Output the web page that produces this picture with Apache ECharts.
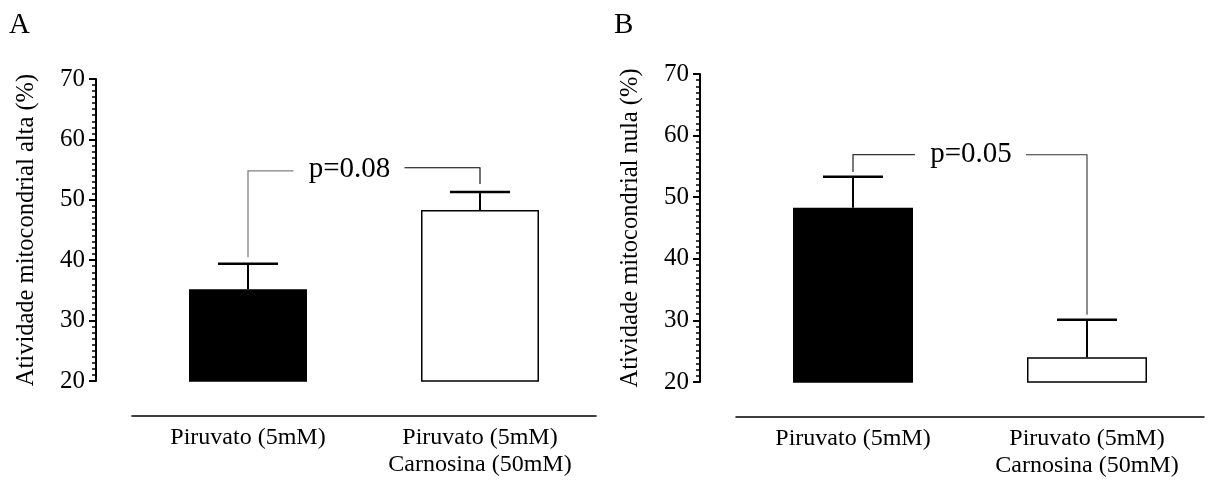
<!DOCTYPE html>
<html lang="pt">
<head>
<meta charset="utf-8">
<title>Atividade mitocondrial</title>
<script src="https://cdn.jsdelivr.net/npm/echarts@6/dist/echarts.min.js"></script>
<style>
  html, body { margin: 0; padding: 0; background: #fff; }
  #chart { width: 1208px; height: 488px; }
</style>
</head>
<body>
<div id="chart"></div>
<script>
// valores
var categories = ['Piruvato (5mM)', 'Piruvato (5mM)\nCarnosina (50mM)'];
var altaMean = [35.2, 48.3];
var altaTop = [39.4, 51.3];
var nulaMean = [48.3, 24.0];
var nulaTop = [53.3, 30.1];
// colchete: topo esq., topo dir., base esq., base dir.
var altaBracket = [54.8, 55.3, 40.5, 52.6];
var nulaBracket = [56.9, 56.9, 54.1, 30.9];
var pLabels = ['p=0.08', 'p=0.05'];
var yTitles = ['Atividade mitocondrial alta (%)', 'Atividade mitocondrial nula (%)'];
var letters = ['A', 'B'];

var serif = '"Liberation Serif", "Times New Roman", serif';

function errorItem(params, api) {
  var base = api.coord([api.value(0), api.value(1)]);
  var top = api.coord([api.value(0), api.value(2)]);
  return {
    type: 'group',
    children: [
      { type: 'line', shape: { x1: base[0], y1: base[1], x2: top[0], y2: top[1] },
        style: { stroke: '#000', lineWidth: 2 } },
      { type: 'line', shape: { x1: top[0] - 30, y1: top[1], x2: top[0] + 30, y2: top[1] },
        style: { stroke: '#000', lineWidth: 2.5 } }
    ]
  };
}

function bracketItem(text, frac, leftColor, rightColor) {
  return function (params, api) {
    var lt = api.coord([0, api.value(2)]);
    var rt = api.coord([1, api.value(3)]);
    var lb = api.coord([0, api.value(4)]);
    var rb = api.coord([1, api.value(5)]);
    var tx = lt[0] + (rt[0] - lt[0]) * frac;
    var ty = (lt[1] + rt[1]) / 2;
    return {
      type: 'group',
      children: [
        { type: 'polyline', shape: { points: [[lb[0], lb[1]], [lt[0], lt[1]], [tx - 56, lt[1]]] },
          style: { stroke: leftColor, lineWidth: 1.3, fill: null } },
        { type: 'polyline', shape: { points: [[tx + 55, rt[1]], [rt[0], rt[1]], [rb[0], rb[1]]] },
          style: { stroke: rightColor, lineWidth: 1.1, fill: null } },
        { type: 'text', style: { text: text, x: tx, y: ty, align: 'center', verticalAlign: 'middle',
          fontSize: 29, fontFamily: serif, fill: '#000' } }
      ]
    };
  };
}

function yAxis(i, name) {
  return {
    type: 'value', gridIndex: i, min: 20, max: 70, interval: 10, offset: 36,
    name: name, nameLocation: 'middle', nameGap: 57,
    nameTextStyle: { fontSize: 24.5, fontFamily: serif, color: '#000' },
    axisLine: { show: true, lineStyle: { color: '#000', width: 2 } },
    axisTick: { show: true, length: 7, lineStyle: { color: '#000', width: 2 } },
    minorTick: { show: true, splitNumber: 10, length: 4, lineStyle: { color: '#000', width: 1.5 } },
    splitLine: { show: false },
    axisLabel: { fontSize: 25, fontFamily: serif, color: '#000', margin: 11 }
  };
}

function xAxis(i) {
  return {
    type: 'category', gridIndex: i, data: categories, offset: 35,
    axisLine: { lineStyle: { color: '#000', width: 1.5 } },
    axisTick: { alignWithLabel: true, length: 8, lineStyle: { color: '#000', width: 1.5 } },
    axisLabel: { interval: 0, fontSize: 24, lineHeight: 27, fontFamily: serif, color: '#000', margin: 8 }
  };
}

function barData(values) {
  return values.map(function (v, k) {
    return {
      value: v,
      itemStyle: k === 0
        ? { color: '#000', borderColor: '#000', borderWidth: 1.5 }
        : { color: '#fff', borderColor: '#000', borderWidth: 1.5 }
    };
  });
}

var chart = echarts.init(document.getElementById('chart'));
chart.setOption({
  animation: false,
  title: [
    { text: letters[0], left: 9, top: 11, padding: 0,
      textStyle: { fontSize: 29, fontWeight: 'normal', fontFamily: serif, color: '#000' } },
    { text: letters[1], left: 614, top: 11, padding: 0,
      textStyle: { fontSize: 29, fontWeight: 'normal', fontFamily: serif, color: '#000' } }
  ],
  grid: [
    { left: 132, right: 612, top: 79, bottom: 107 },
    { left: 736, right: 4, top: 74, bottom: 106 }
  ],
  xAxis: [xAxis(0), xAxis(1)],
  yAxis: [yAxis(0, yTitles[0]), yAxis(1, yTitles[1])],
  series: [
    { type: 'bar', xAxisIndex: 0, yAxisIndex: 0, barWidth: 118, data: barData(altaMean) },
    { type: 'custom', xAxisIndex: 0, yAxisIndex: 0, renderItem: errorItem, z: 3,
      data: altaMean.map(function (m, k) { return [k, m, altaTop[k]]; }) },
    { type: 'custom', xAxisIndex: 0, yAxisIndex: 0, z: 3, encode: { x: 0, y: 2 },
      renderItem: bracketItem(pLabels[0], 0.4375, '#808080', '#000'),
      data: [[0, 1].concat(altaBracket)] },
    { type: 'bar', xAxisIndex: 1, yAxisIndex: 1, barWidth: 120, data: barData(nulaMean) },
    { type: 'custom', xAxisIndex: 1, yAxisIndex: 1, renderItem: errorItem, z: 3,
      data: nulaMean.map(function (m, k) { return [k, m, nulaTop[k]]; }) },
    { type: 'custom', xAxisIndex: 1, yAxisIndex: 1, z: 3, encode: { x: 0, y: 2 },
      renderItem: bracketItem(pLabels[1], 0.504, '#333', '#333'),
      data: [[0, 1].concat(nulaBracket)] }
  ]
});
</script>
</body>
</html>
